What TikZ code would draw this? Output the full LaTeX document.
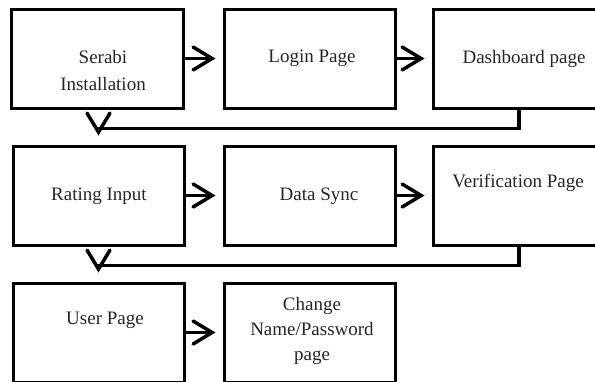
\documentclass[tikz,border=0pt]{standalone}
\usepackage{fontspec}
\setmainfont{Liberation Serif}
\usetikzlibrary{arrows.meta}
\begin{document}
\begin{tikzpicture}[x=1pt,y=-1pt,
  box/.style={draw=black,line width=3pt,rectangle,inner sep=0pt,minimum height=99pt},
  lbl/.style={font=\fontsize{19}{25}\selectfont,text=black!85,align=center,inner sep=0pt},
  arr/.style={line width=3.5pt,-{Straight Barb[length=19pt,width=23pt,line cap=round]}}]
\useasboundingbox (0,0) rectangle (595,381);
\clip (0,0) rectangle (595,381);
\fill[white] (0,0) rectangle (595,381);
% boxes
\node[box,minimum width=172pt] (b1) at (97,58.5) {};
\node[box,minimum width=171pt] (b2) at (309.5,58.5) {};
\node[box,minimum width=182pt] (b3) at (524,58.5) {};
\node[box,minimum width=171pt] (b4) at (98.5,195.5) {};
\node[box,minimum width=171pt] (b5) at (309.5,195.5) {};
\node[box,minimum width=182pt] (b6) at (524,195.5) {};
\node[box,minimum width=171pt] (b7) at (98.5,332.5) {};
\node[box,minimum width=171pt] (b8) at (309.5,332.5) {};
% texts
\node[lbl,font=\fontsize{19}{27}\selectfont] (t1) at (103,70) {Serabi\\Installation};
\node[lbl,anchor=mid] (t2) at (312,60) {Login Page};
\node[lbl,anchor=mid] (t3) at (524,61) {Dashboard page};
\node[lbl,anchor=mid] (t4) at (99,198) {Rating Input};
\node[lbl,anchor=mid] (t5) at (319,198) {Data Sync};
\node[lbl,anchor=mid] (t6) at (518,185) {Verification Page};
\node[lbl,anchor=mid] (t7) at (105,322) {User Page};
\node[lbl] (t8) at (312,331) {Change\\Name/Password\\page};
% connectors
\draw[arr,shorten >=7pt] (b1.east) -- (b2.west);
\draw[arr,shorten >=7pt] (b2.east) -- (b3.west);
\draw[arr,shorten >=7pt] (b4.east) -- (b5.west);
\draw[arr,shorten >=7pt] (b5.east) -- (b6.west);
\draw[arr,shorten >=7pt] (b7.east) -- (b8.west);
\draw[arr,shorten >=9pt] ([xshift=-5pt]b3.south) -- ++(0,19) -| (b4.north);
\draw[arr,shorten >=9pt] ([xshift=-5pt]b6.south) -- ++(0,19) -| (b7.north);
\end{tikzpicture}
\end{document}
